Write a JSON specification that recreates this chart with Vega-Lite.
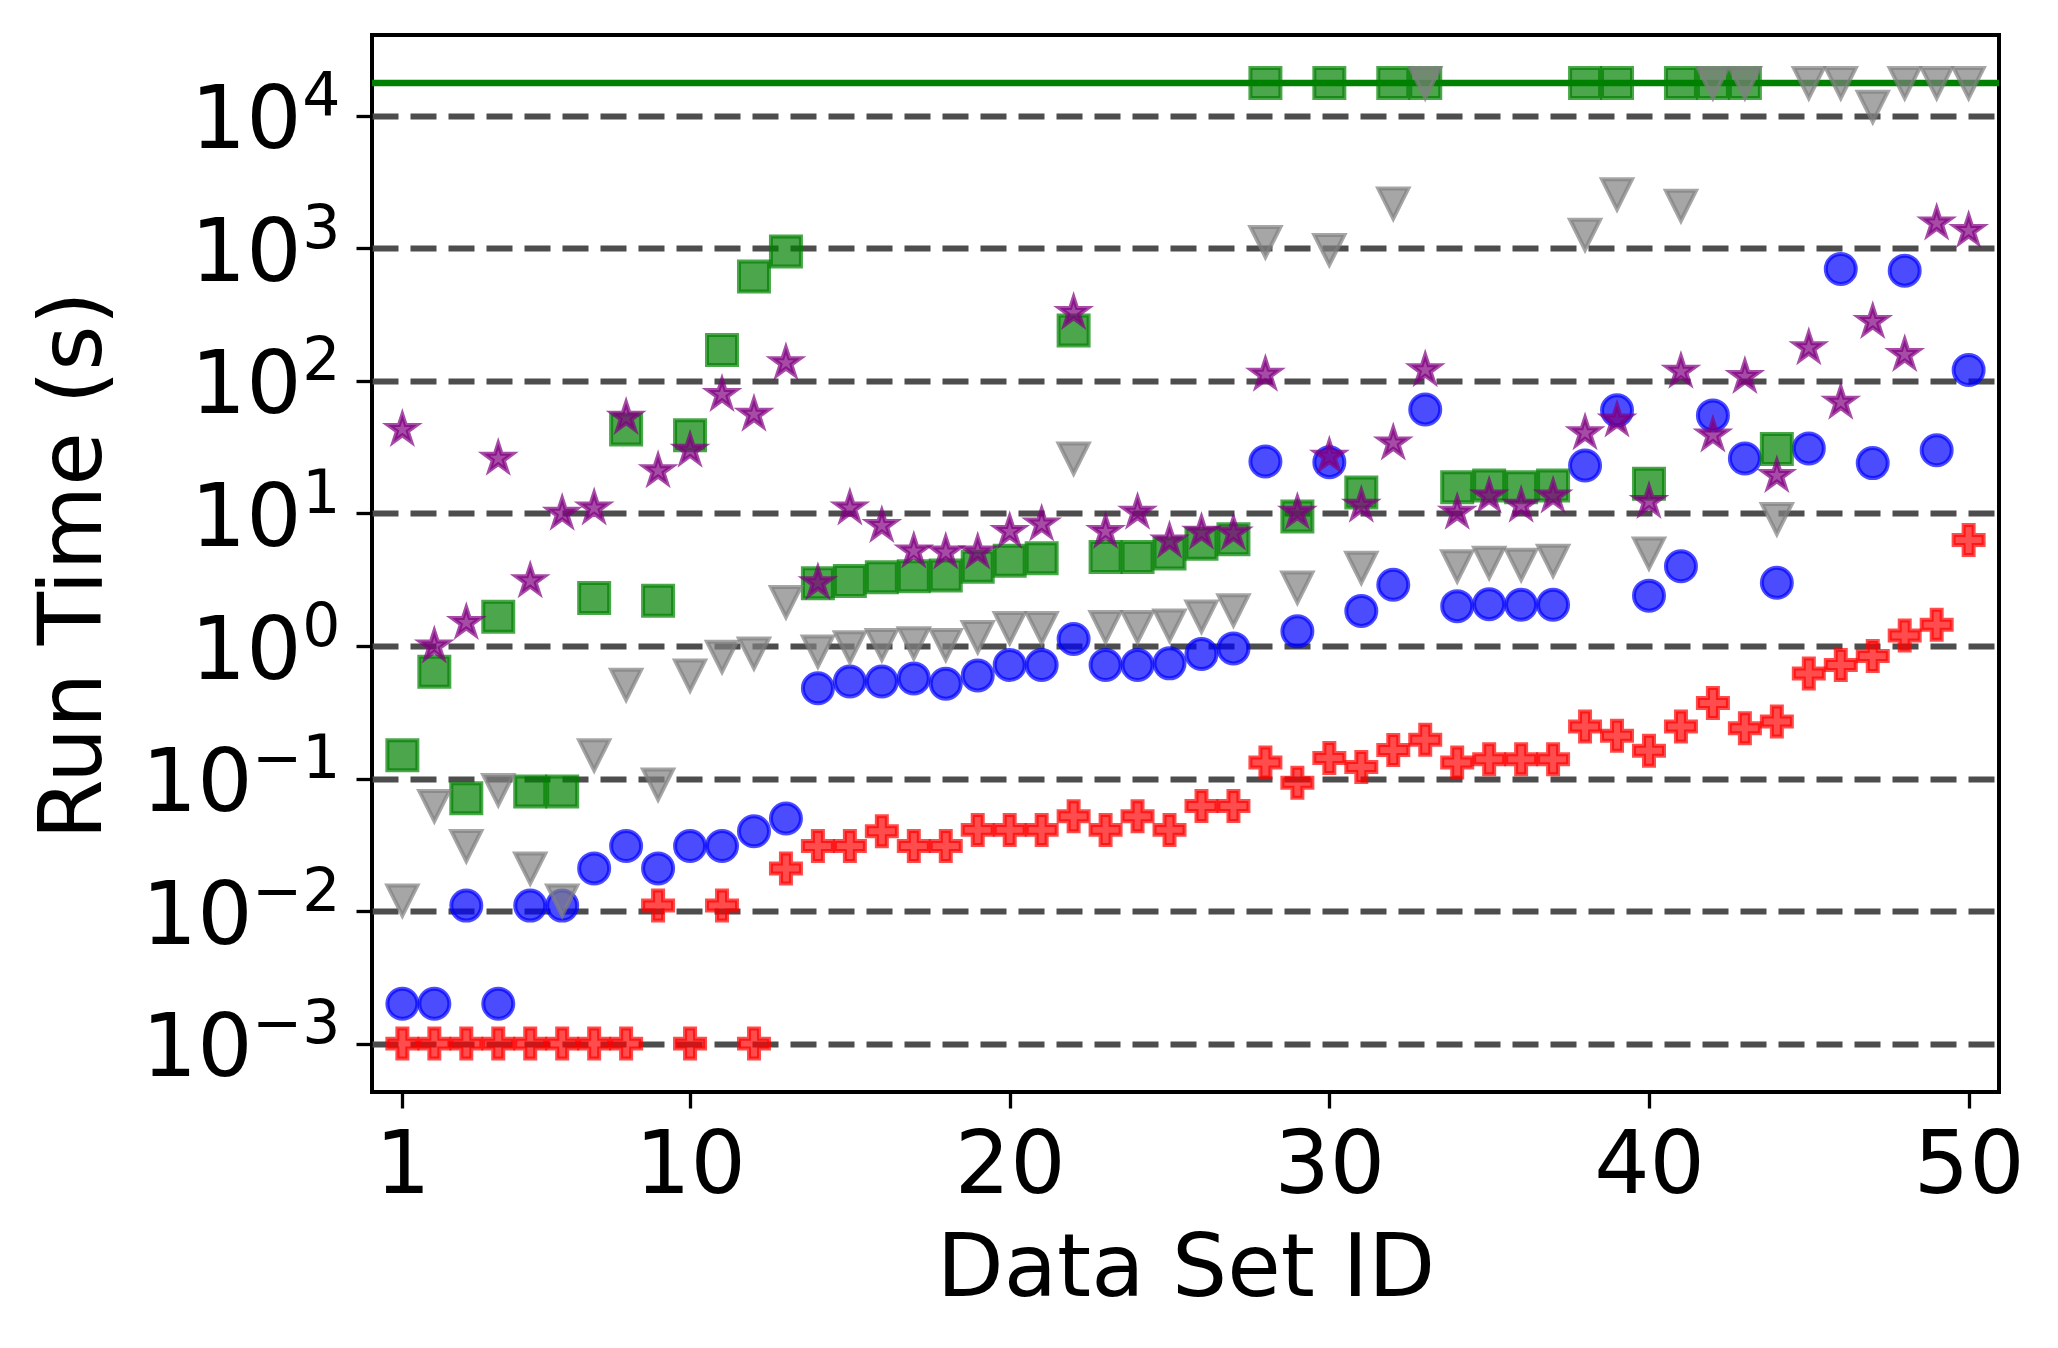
{
  "$schema": "https://vega.github.io/schema/vega-lite/v6.json",
  "width": 1627,
  "height": 1057,
  "autosize": {"type": "none"},
  "padding": {"left": 372, "top": 35, "right": 59, "bottom": 256},
  "background": "white",
  "config": {
    "font": "DejaVu Sans",
    "view": {"stroke": "black", "strokeWidth": 4}
  },
  "datasets": {
    "runs": [
      {"id": 1, "method": "A", "time": 0.002},
      {"id": 2, "method": "A", "time": 0.002},
      {"id": 3, "method": "A", "time": 0.011},
      {"id": 4, "method": "A", "time": 0.002},
      {"id": 5, "method": "A", "time": 0.011},
      {"id": 6, "method": "A", "time": 0.011},
      {"id": 7, "method": "A", "time": 0.021},
      {"id": 8, "method": "A", "time": 0.031},
      {"id": 9, "method": "A", "time": 0.021},
      {"id": 10, "method": "A", "time": 0.031},
      {"id": 11, "method": "A", "time": 0.031},
      {"id": 12, "method": "A", "time": 0.04},
      {"id": 13, "method": "A", "time": 0.05},
      {"id": 14, "method": "A", "time": 0.48},
      {"id": 15, "method": "A", "time": 0.54},
      {"id": 16, "method": "A", "time": 0.54},
      {"id": 17, "method": "A", "time": 0.57},
      {"id": 18, "method": "A", "time": 0.52},
      {"id": 19, "method": "A", "time": 0.6},
      {"id": 20, "method": "A", "time": 0.72},
      {"id": 21, "method": "A", "time": 0.72},
      {"id": 22, "method": "A", "time": 1.13},
      {"id": 23, "method": "A", "time": 0.72},
      {"id": 24, "method": "A", "time": 0.72},
      {"id": 25, "method": "A", "time": 0.74},
      {"id": 26, "method": "A", "time": 0.87},
      {"id": 27, "method": "A", "time": 0.96},
      {"id": 28, "method": "A", "time": 24.7},
      {"id": 29, "method": "A", "time": 1.29},
      {"id": 30, "method": "A", "time": 24.4},
      {"id": 31, "method": "A", "time": 1.84},
      {"id": 32, "method": "A", "time": 2.9},
      {"id": 33, "method": "A", "time": 61},
      {"id": 34, "method": "A", "time": 2.0},
      {"id": 35, "method": "A", "time": 2.07},
      {"id": 36, "method": "A", "time": 2.05},
      {"id": 37, "method": "A", "time": 2.05},
      {"id": 38, "method": "A", "time": 23},
      {"id": 39, "method": "A", "time": 60},
      {"id": 40, "method": "A", "time": 2.4},
      {"id": 41, "method": "A", "time": 4.0},
      {"id": 42, "method": "A", "time": 55},
      {"id": 43, "method": "A", "time": 26},
      {"id": 44, "method": "A", "time": 3.0},
      {"id": 45, "method": "A", "time": 31},
      {"id": 46, "method": "A", "time": 700},
      {"id": 47, "method": "A", "time": 24},
      {"id": 48, "method": "A", "time": 680},
      {"id": 49, "method": "A", "time": 30},
      {"id": 50, "method": "A", "time": 121},
      {"id": 1, "method": "B", "time": 0.001},
      {"id": 2, "method": "B", "time": 0.001},
      {"id": 3, "method": "B", "time": 0.001},
      {"id": 4, "method": "B", "time": 0.001},
      {"id": 5, "method": "B", "time": 0.001},
      {"id": 6, "method": "B", "time": 0.001},
      {"id": 7, "method": "B", "time": 0.001},
      {"id": 8, "method": "B", "time": 0.001},
      {"id": 9, "method": "B", "time": 0.011},
      {"id": 10, "method": "B", "time": 0.001},
      {"id": 11, "method": "B", "time": 0.011},
      {"id": 12, "method": "B", "time": 0.001},
      {"id": 13, "method": "B", "time": 0.021},
      {"id": 14, "method": "B", "time": 0.031},
      {"id": 15, "method": "B", "time": 0.031},
      {"id": 16, "method": "B", "time": 0.04},
      {"id": 17, "method": "B", "time": 0.031},
      {"id": 18, "method": "B", "time": 0.031},
      {"id": 19, "method": "B", "time": 0.041},
      {"id": 20, "method": "B", "time": 0.041},
      {"id": 21, "method": "B", "time": 0.041},
      {"id": 22, "method": "B", "time": 0.052},
      {"id": 23, "method": "B", "time": 0.041},
      {"id": 24, "method": "B", "time": 0.052},
      {"id": 25, "method": "B", "time": 0.041},
      {"id": 26, "method": "B", "time": 0.062},
      {"id": 27, "method": "B", "time": 0.062},
      {"id": 28, "method": "B", "time": 0.132},
      {"id": 29, "method": "B", "time": 0.093},
      {"id": 30, "method": "B", "time": 0.143},
      {"id": 31, "method": "B", "time": 0.122},
      {"id": 32, "method": "B", "time": 0.164},
      {"id": 33, "method": "B", "time": 0.196},
      {"id": 34, "method": "B", "time": 0.132},
      {"id": 35, "method": "B", "time": 0.14},
      {"id": 36, "method": "B", "time": 0.14},
      {"id": 37, "method": "B", "time": 0.14},
      {"id": 38, "method": "B", "time": 0.247},
      {"id": 39, "method": "B", "time": 0.21},
      {"id": 40, "method": "B", "time": 0.162},
      {"id": 41, "method": "B", "time": 0.247},
      {"id": 42, "method": "B", "time": 0.372},
      {"id": 43, "method": "B", "time": 0.24},
      {"id": 44, "method": "B", "time": 0.27},
      {"id": 45, "method": "B", "time": 0.62},
      {"id": 46, "method": "B", "time": 0.72},
      {"id": 47, "method": "B", "time": 0.84},
      {"id": 48, "method": "B", "time": 1.2},
      {"id": 49, "method": "B", "time": 1.45},
      {"id": 50, "method": "B", "time": 6.3},
      {"id": 1, "method": "C", "time": 0.15},
      {"id": 2, "method": "C", "time": 0.64},
      {"id": 3, "method": "C", "time": 0.071},
      {"id": 4, "method": "C", "time": 1.66},
      {"id": 5, "method": "C", "time": 0.08},
      {"id": 6, "method": "C", "time": 0.08},
      {"id": 7, "method": "C", "time": 2.3},
      {"id": 8, "method": "C", "time": 43},
      {"id": 9, "method": "C", "time": 2.2},
      {"id": 10, "method": "C", "time": 39},
      {"id": 11, "method": "C", "time": 171},
      {"id": 12, "method": "C", "time": 613},
      {"id": 13, "method": "C", "time": 950},
      {"id": 14, "method": "C", "time": 2.97},
      {"id": 15, "method": "C", "time": 3.1},
      {"id": 16, "method": "C", "time": 3.3},
      {"id": 17, "method": "C", "time": 3.36},
      {"id": 18, "method": "C", "time": 3.4},
      {"id": 19, "method": "C", "time": 3.96},
      {"id": 20, "method": "C", "time": 4.4},
      {"id": 21, "method": "C", "time": 4.6},
      {"id": 22, "method": "C", "time": 240},
      {"id": 23, "method": "C", "time": 4.7},
      {"id": 24, "method": "C", "time": 4.7},
      {"id": 25, "method": "C", "time": 5.0},
      {"id": 26, "method": "C", "time": 5.9},
      {"id": 27, "method": "C", "time": 6.4},
      {"id": 28, "method": "C", "time": 17700},
      {"id": 29, "method": "C", "time": 9.5},
      {"id": 30, "method": "C", "time": 17700},
      {"id": 31, "method": "C", "time": 14.4},
      {"id": 32, "method": "C", "time": 17700},
      {"id": 33, "method": "C", "time": 17700},
      {"id": 34, "method": "C", "time": 15.8},
      {"id": 35, "method": "C", "time": 16.3},
      {"id": 36, "method": "C", "time": 15.8},
      {"id": 37, "method": "C", "time": 16.3},
      {"id": 38, "method": "C", "time": 17700},
      {"id": 39, "method": "C", "time": 17700},
      {"id": 40, "method": "C", "time": 16.8},
      {"id": 41, "method": "C", "time": 17700},
      {"id": 42, "method": "C", "time": 17700},
      {"id": 43, "method": "C", "time": 17700},
      {"id": 44, "method": "C", "time": 30.7},
      {"id": 1, "method": "D", "time": 0.012},
      {"id": 2, "method": "D", "time": 0.062},
      {"id": 3, "method": "D", "time": 0.031},
      {"id": 4, "method": "D", "time": 0.082},
      {"id": 5, "method": "D", "time": 0.021},
      {"id": 6, "method": "D", "time": 0.012},
      {"id": 7, "method": "D", "time": 0.15},
      {"id": 8, "method": "D", "time": 0.51},
      {"id": 9, "method": "D", "time": 0.09},
      {"id": 10, "method": "D", "time": 0.6},
      {"id": 11, "method": "D", "time": 0.83},
      {"id": 12, "method": "D", "time": 0.88},
      {"id": 13, "method": "D", "time": 2.15},
      {"id": 14, "method": "D", "time": 0.91},
      {"id": 15, "method": "D", "time": 0.98},
      {"id": 16, "method": "D", "time": 1.02},
      {"id": 17, "method": "D", "time": 1.05},
      {"id": 18, "method": "D", "time": 1.02},
      {"id": 19, "method": "D", "time": 1.17},
      {"id": 20, "method": "D", "time": 1.37},
      {"id": 21, "method": "D", "time": 1.37},
      {"id": 22, "method": "D", "time": 26},
      {"id": 23, "method": "D", "time": 1.39},
      {"id": 24, "method": "D", "time": 1.39},
      {"id": 25, "method": "D", "time": 1.43},
      {"id": 26, "method": "D", "time": 1.67},
      {"id": 27, "method": "D", "time": 1.86},
      {"id": 28, "method": "D", "time": 1120},
      {"id": 29, "method": "D", "time": 2.76},
      {"id": 30, "method": "D", "time": 975},
      {"id": 31, "method": "D", "time": 3.9},
      {"id": 32, "method": "D", "time": 2180},
      {"id": 33, "method": "D", "time": 17700},
      {"id": 34, "method": "D", "time": 4.0},
      {"id": 35, "method": "D", "time": 4.25},
      {"id": 36, "method": "D", "time": 4.1},
      {"id": 37, "method": "D", "time": 4.4},
      {"id": 38, "method": "D", "time": 1270},
      {"id": 39, "method": "D", "time": 2560},
      {"id": 40, "method": "D", "time": 5.0},
      {"id": 41, "method": "D", "time": 2100},
      {"id": 42, "method": "D", "time": 17700},
      {"id": 43, "method": "D", "time": 17700},
      {"id": 44, "method": "D", "time": 9.1},
      {"id": 45, "method": "D", "time": 17700},
      {"id": 46, "method": "D", "time": 17700},
      {"id": 47, "method": "D", "time": 11700},
      {"id": 48, "method": "D", "time": 17700},
      {"id": 49, "method": "D", "time": 17700},
      {"id": 50, "method": "D", "time": 17700},
      {"id": 1, "method": "E", "time": 43},
      {"id": 2, "method": "E", "time": 1.0},
      {"id": 3, "method": "E", "time": 1.5},
      {"id": 4, "method": "E", "time": 26},
      {"id": 5, "method": "E", "time": 3.1},
      {"id": 6, "method": "E", "time": 10},
      {"id": 7, "method": "E", "time": 11},
      {"id": 8, "method": "E", "time": 53},
      {"id": 9, "method": "E", "time": 21},
      {"id": 10, "method": "E", "time": 30},
      {"id": 11, "method": "E", "time": 79},
      {"id": 12, "method": "E", "time": 56},
      {"id": 13, "method": "E", "time": 137},
      {"id": 14, "method": "E", "time": 3.0},
      {"id": 15, "method": "E", "time": 11},
      {"id": 16, "method": "E", "time": 8.1},
      {"id": 17, "method": "E", "time": 5.2},
      {"id": 18, "method": "E", "time": 5.1},
      {"id": 19, "method": "E", "time": 5.1},
      {"id": 20, "method": "E", "time": 7.3},
      {"id": 21, "method": "E", "time": 8.3},
      {"id": 22, "method": "E", "time": 328},
      {"id": 23, "method": "E", "time": 7.3},
      {"id": 24, "method": "E", "time": 10.2},
      {"id": 25, "method": "E", "time": 6.2},
      {"id": 26, "method": "E", "time": 7.2},
      {"id": 27, "method": "E", "time": 7.1},
      {"id": 28, "method": "E", "time": 112},
      {"id": 29, "method": "E", "time": 10.2},
      {"id": 30, "method": "E", "time": 27},
      {"id": 31, "method": "E", "time": 11.5},
      {"id": 32, "method": "E", "time": 34},
      {"id": 33, "method": "E", "time": 121},
      {"id": 34, "method": "E", "time": 10.2},
      {"id": 35, "method": "E", "time": 13.5},
      {"id": 36, "method": "E", "time": 11.5},
      {"id": 37, "method": "E", "time": 13.5},
      {"id": 38, "method": "E", "time": 40.5},
      {"id": 39, "method": "E", "time": 50.6},
      {"id": 40, "method": "E", "time": 12.3},
      {"id": 41, "method": "E", "time": 118},
      {"id": 42, "method": "E", "time": 39},
      {"id": 43, "method": "E", "time": 108},
      {"id": 44, "method": "E", "time": 19.3},
      {"id": 45, "method": "E", "time": 178},
      {"id": 46, "method": "E", "time": 69},
      {"id": 47, "method": "E", "time": 280},
      {"id": 48, "method": "E", "time": 158},
      {"id": 49, "method": "E", "time": 1550},
      {"id": 50, "method": "E", "time": 1360}
    ]
  },
  "resolve": {"axis": {"y": "independent"}},
  "layer": [
    {
      "data": {"values": [{"limit": 17700}]},
      "mark": {"type": "rule", "color": "#008000", "strokeWidth": 6.5},
      "encoding": {
        "y": {
          "field": "limit",
          "type": "quantitative",
          "scale": {"type": "log", "domain": [0.0004315, 40780], "nice": false},
          "axis": {
            "orient": "left",
            "offset": 0,
            "values": [0.001, 0.01, 0.1, 1, 10, 100, 1000, 10000],
            "labelExpr": "replace(format(round(log(datum.value) / LN10), 'd'), '-', '−')",
            "grid": false,
            "ticks": false,
            "tickSize": 0,
            "domain": false,
            "labelFontSize": 60,
            "labelColor": "black",
            "labelAlign": "right",
            "labelBaseline": "alphabetic",
            "labelOffset": -1,
            "labelPadding": 32,
            "labelOverlap": false,
            "title": null
          }
        }
      }
    },
    {
      "data": {"name": "runs"},
      "mark": {
        "type": "point",
        "filled": true,
        "size": 900,
        "opacity": 1,
        "fillOpacity": 0.7,
        "strokeOpacity": 0.7,
        "strokeWidth": 4
      },
      "encoding": {
        "x": {
          "field": "id",
          "type": "quantitative",
          "scale": {"domain": [0.05, 50.95], "nice": false, "zero": false},
          "axis": {
            "values": [1, 10, 20, 30, 40, 50],
            "title": "Data Set ID",
            "grid": false,
            "domain": false,
            "tickSize": 16,
            "tickWidth": 3.3,
            "tickColor": "black",
            "labelFontSize": 87,
            "labelColor": "black",
            "labelBaseline": "alphabetic",
            "labelPadding": 84,
            "labelFlush": false,
            "labelOverlap": false,
            "titleFontSize": 87,
            "titleFontWeight": "normal",
            "titleColor": "black",
            "titleBaseline": "alphabetic",
            "titleX": 813.5,
            "titleY": 203
          }
        },
        "y": {
          "field": "time",
          "type": "quantitative",
          "scale": {"type": "log", "domain": [0.0004315, 40780], "nice": false},
          "axis": {
            "orient": "left",
            "offset": 0,
            "values": [0.001, 0.01, 0.1, 1, 10, 100, 1000, 10000],
            "labelExpr": "'10'",
            "grid": true,
            "gridColor": "#4d4d4d",
            "gridWidth": 6,
            "gridDash": [26, 12],
            "domain": false,
            "tickSize": 16,
            "tickWidth": 3.3,
            "tickColor": "black",
            "labelFontSize": 87,
            "labelColor": "black",
            "labelAlign": "right",
            "labelBaseline": "alphabetic",
            "labelOffset": 32,
            "labelPadding": {"condition": {"test": "datum.value < 1", "value": 104}, "value": 55},
            "labelOverlap": false,
            "title": "Run Time (s)",
            "titleFontSize": 87,
            "titleFontWeight": "normal",
            "titleColor": "black",
            "titleBaseline": "alphabetic",
            "titleX": -272,
            "titleY": 530
          }
        },
        "fill": {
          "field": "method",
          "type": "nominal",
          "scale": {"domain": ["A", "B", "C", "D", "E"], "range": ["#0000ff", "#ff0000", "#008000", "#808080", "#800080"]},
          "legend": null
        },
        "stroke": {
          "field": "method",
          "type": "nominal",
          "scale": {"domain": ["A", "B", "C", "D", "E"], "range": ["#0000ff", "#ff0000", "#008000", "#808080", "#800080"]},
          "legend": null
        },
        "shape": {
          "field": "method",
          "type": "nominal",
          "scale": {
            "domain": ["A", "B", "C", "D", "E"],
            "range": [
              "circle",
              "M-0.333,-1L0.333,-1L0.333,-0.333L1,-0.333L1,0.333L0.333,0.333L0.333,1L-0.333,1L-0.333,0.333L-1,0.333L-1,-0.333L-0.333,-0.333Z",
              "square",
              "M-1,-1L1,-1L0,1Z",
              "M0,-1L0.2245,-0.309L0.9511,-0.309L0.3633,0.118L0.5878,0.809L0,0.382L-0.5878,0.809L-0.3633,0.118L-0.9511,-0.309L-0.2245,-0.309Z"
            ]
          },
          "legend": null
        }
      }
    }
  ]
}
